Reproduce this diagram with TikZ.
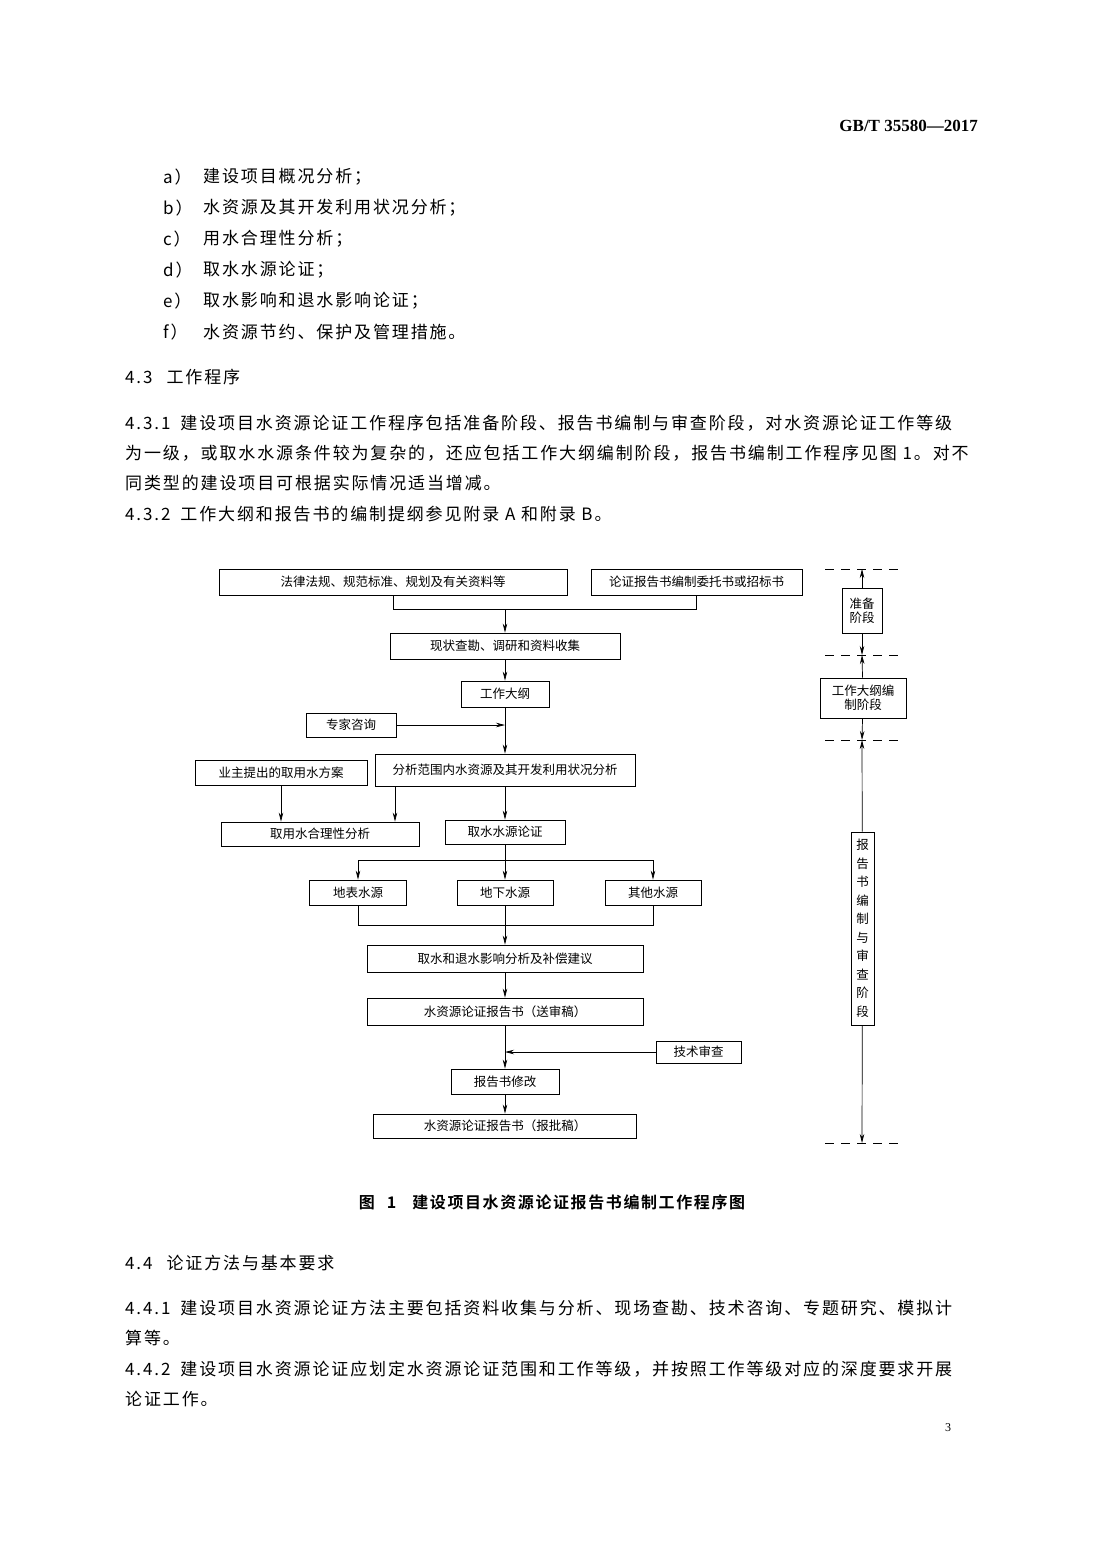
\documentclass[tikz,border=0pt]{standalone}
\usepackage{fontspec}
\setmainfont{Liberation Serif}
\newfontfamily\cjk{Noto Sans CJK SC}
\newfontfamily\cjksp[LetterSpace=11]{Noto Sans CJK SC}
\newfontfamily\cjkb[LetterSpace=10]{Noto Sans CJK SC Bold}
\usetikzlibrary{arrows.meta}
\begin{document}
\begin{tikzpicture}[x=1pt,y=-1pt,
  bx/.style={draw,line width=0.9pt,inner sep=0pt,font=\cjk\fontsize{12.5}{14}\selectfont,align=center},
  arr/.style={-{Stealth[length=9pt,width=4.5pt]},line width=0.7pt},
  ln/.style={line width=0.7pt},
  dsh/.style={dashed,dash pattern=on 9pt off 7pt,line width=0.8pt},
  body/.style={anchor=west,inner sep=0pt,font=\cjksp\fontsize{17}{20}\selectfont}]
\useasboundingbox (0,0) rectangle (1102,1557);
% header
\node[anchor=east,inner sep=0pt,font=\bfseries\fontsize{17}{20}\selectfont] (hdr) at (978,126) {GB/T 35580—2017};
% list
\foreach \l/\t/\y in {a）/建设项目概况分析；/177, b）/水资源及其开发利用状况分析；/208, c）/用水合理性分析；/239, d）/取水水源论证；/270, e）/取水影响和退水影响论证；/301, f）/水资源节约、保护及管理措施。/332}{
  \node[body] at (163,\y) {\l};
  \node[body] at (203,\y) {\t};
}
\node[body] (s43) at (125,377) {4.3\hspace{14pt}工作程序};
\node[body] (p1) at (125,423) {4.3.1\hspace{10pt}建设项目水资源论证工作程序包括准备阶段、报告书编制与审查阶段，对水资源论证工作等级};
\node[body] (p2) at (125,453) {为一级，或取水水源条件较为复杂的，还应包括工作大纲编制阶段，报告书编制工作程序见图 1。对不};
\node[body] (p3) at (125,483) {同类型的建设项目可根据实际情况适当增减。};
\node[body] (p4) at (125,514) {4.3.2\hspace{10pt}工作大纲和报告书的编制提纲参见附录 A 和附录 B。};
% diagram
\node[bx,minimum width=348pt,minimum height=26pt] (n1) at (393,582) {法律法规、规范标准、规划及有关资料等};
\node[bx,minimum width=211pt,minimum height=26pt] (n2) at (696.5,582) {论证报告书编制委托书或招标书};
\node[bx,minimum width=230pt,minimum height=26pt] (n3) at (505,646) {现状查勘、调研和资料收集};
\node[bx,minimum width=88pt,minimum height=26pt] (n4) at (505,694) {工作大纲};
\node[bx,minimum width=90pt,minimum height=24pt] (zj) at (351,725) {专家咨询};
\node[bx,minimum width=260pt,minimum height=32pt] (n5) at (505,770) {分析范围内水资源及其开发利用状况分析};
\node[bx,minimum width=172pt,minimum height=25pt] (yz) at (281,772.5) {业主提出的取用水方案};
\node[bx,minimum width=198pt,minimum height=24pt] (hl) at (320,834) {取用水合理性分析};
\node[bx,minimum width=120pt,minimum height=24pt] (sy) at (505,832) {取水水源论证};
\node[bx,minimum width=97pt,minimum height=25pt] (db) at (358,892.5) {地表水源};
\node[bx,minimum width=96pt,minimum height=25pt] (dx) at (505,892.5) {地下水源};
\node[bx,minimum width=96pt,minimum height=25pt] (qt) at (653,892.5) {其他水源};
\node[bx,minimum width=276pt,minimum height=27pt] (yx) at (505,958.5) {取水和退水影响分析及补偿建议};
\node[bx,minimum width=276pt,minimum height=27pt] (ss) at (505,1011.5) {水资源论证报告书（送审稿）};
\node[bx,minimum width=85pt,minimum height=22pt] (js) at (698.5,1052) {技术审查};
\node[bx,minimum width=108pt,minimum height=25pt] (xg) at (505,1081.5) {报告书修改};
\node[bx,minimum width=263pt,minimum height=24pt] (bp) at (505,1126) {水资源论证报告书（报批稿）};
\coordinate (j1) at (505,609);
\coordinate (j2) at (505,725);
\coordinate (j3) at (505,860);
\coordinate (j4) at (505,925);
\coordinate (j5) at (505,1052);
\draw[ln] (n1.south) -- (n1.south|-j1) -- (n2.south|-j1) -- (n2.south);
\draw[arr] (j1) -- (n3.north);
\draw[arr] (n3) -- (n4);
\draw[arr] (zj) -- (j2);
\draw[arr] (n4) -- (n5);
\draw[arr] (yz.south) -- (yz.south|-hl.north);
\draw[arr] ([xshift=-110pt]n5.south) -- ([xshift=-110pt]n5.south|-hl.north);
\draw[arr] (n5) -- (sy);
\draw[ln] (sy) -- (j3);
\draw[ln] (db.north|-j3) -- (qt.north|-j3);
\draw[arr] (db.north|-j3) -- (db.north);
\draw[arr] (j3) -- (dx.north);
\draw[arr] (qt.north|-j3) -- (qt.north);
\draw[ln] (db.south) -- (db.south|-j4) -- (qt.south|-j4) -- (qt.south);
\draw[ln] (dx) -- (j4);
\draw[arr] (j4) -- (yx.north);
\draw[arr] (yx) -- (ss);
\draw[arr] (ss) -- (xg);
\draw[arr] (js) -- (j5);
\draw[arr] (xg) -- (bp);
% right stages
\foreach \y in {569,655,740,1143} \draw[dsh] (825,\y) -- (900,\y);
\coordinate (d1) at (862,569);
\coordinate (d2) at (862,655);
\coordinate (d3) at (862,740);
\coordinate (d4) at (862,1143);
\node[bx,minimum width=40pt,minimum height=45pt] (r1) at (862,610.5) {准备\\阶段};
\node[bx,minimum width=86pt,minimum height=40pt] (r2) at (863,698) {工作大纲编\\制阶段};
\node[bx,minimum width=23pt,minimum height=193pt,font=\cjk\fontsize{12.5}{18.5}\selectfont] (r3) at (862.5,928.5) {报\\告\\书\\编\\制\\与\\审\\查\\阶\\段};
\draw[arr] (r1) -- (d1); \draw[arr] (r1) -- (d2);
\draw[arr] (r2) -- (d2); \draw[arr] (r2) -- (d3);
\draw[arr] (r3) -- (d3); \draw[arr] (r3) -- (d4);
% caption and rest
\node[inner sep=0pt,font=\cjkb\fontsize{16}{20}\selectfont] (cap) at (552,1202) {图\hspace{12pt}1\hspace{16pt}建设项目水资源论证报告书编制工作程序图};
\node[body] (s44) at (125,1263) {4.4\hspace{14pt}论证方法与基本要求};
\node[body] (q1) at (125,1308) {4.4.1\hspace{10pt}建设项目水资源论证方法主要包括资料收集与分析、现场查勘、技术咨询、专题研究、模拟计};
\node[body] (q2) at (125,1338) {算等。};
\node[body] (q3) at (125,1369) {4.4.2\hspace{10pt}建设项目水资源论证应划定水资源论证范围和工作等级，并按照工作等级对应的深度要求开展};
\node[body] (q4) at (125,1399) {论证工作。};
\node[inner sep=0pt,font=\fontsize{12}{14}\selectfont] (pg) at (948,1428) {3};
\end{tikzpicture}
\end{document}
